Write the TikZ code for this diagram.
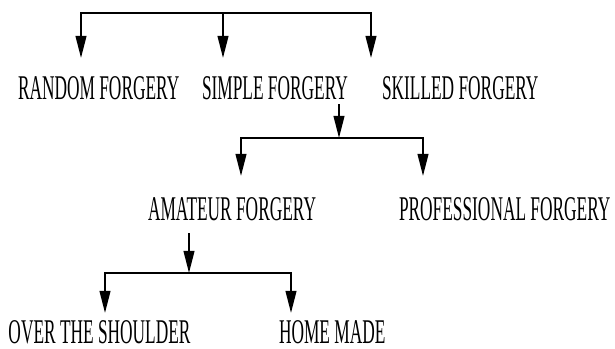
\documentclass[tikz,border=0pt]{standalone}
\usepackage{fontspec}
\setmainfont{Liberation Serif}
\usetikzlibrary{arrows.meta}

\tikzset{every picture/.style={line width=1.5pt}}
\tikzset{
	kind/.style={anchor=base west, inner sep=0pt, font=\fontsize{26}{30}\selectfont},
	branch/.style={-{Triangle[length=16.5pt,width=8pt]}},
}
\newcommand{\narrowtext}[1]{\scalebox{0.5}[1]{#1}}

\begin{document}
\begin{tikzpicture}[x=0.75pt,y=0.75pt,yscale=-1,xscale=1]
		\useasboundingbox (0,0) rectangle (615,349);
		
		%Labels
		\node [kind] (random) at (17,99.5) {\narrowtext{RANDOM FORGERY}};
		\node [kind] (simple) at (201,99.5) {\narrowtext{SIMPLE FORGERY}};
		\node [kind] (skilled) at (381,99.5) {\narrowtext{SKILLED FORGERY}};
		\node [kind] (amateur) at (147,221) {\narrowtext{AMATEUR FORGERY}};
		\node [kind] (professional) at (398,221) {\narrowtext{PROFESSIONAL FORGERY}};
		\node [kind] (shoulder) at (7.5,344) {\narrowtext{OVER THE SHOULDER}};
		\node [kind] (homemade) at (278,344) {\narrowtext{HOME MADE}};
		
		%Junctions and arrow ends
		\coordinate (top) at (223,13.5);
		\coordinate (tipRandom) at (81,58);
		\coordinate (tipSimple) at (223,58);
		\coordinate (tipSkilled) at (371,58);
		\coordinate (mid) at (339,138);
		\coordinate (tipAmateur) at (241,176);
		\coordinate (tipProfessional) at (423,176);
		\coordinate (low) at (189,273);
		\coordinate (tipShoulder) at (105,313);
		\coordinate (tipHomemade) at (291,313);
		
		%Top level
		\draw [branch] (top) -| (tipRandom);
		\draw [branch] (top) -- (tipSimple);
		\draw [branch] (top) -| (tipSkilled);
		
		%Simple forgery
		\draw [branch, shorten <=2.6pt] (simple.south -| mid) -- (mid);
		\draw [branch] (mid) -| (tipAmateur);
		\draw [branch] (mid) -| (tipProfessional);
		
		%Amateur forgery
		\draw [branch, shorten <=8pt] (amateur.south -| low) -- (low);
		\draw [branch] (low) -| (tipShoulder);
		\draw [branch] (low) -| (tipHomemade);
		
\end{tikzpicture}
\end{document}
